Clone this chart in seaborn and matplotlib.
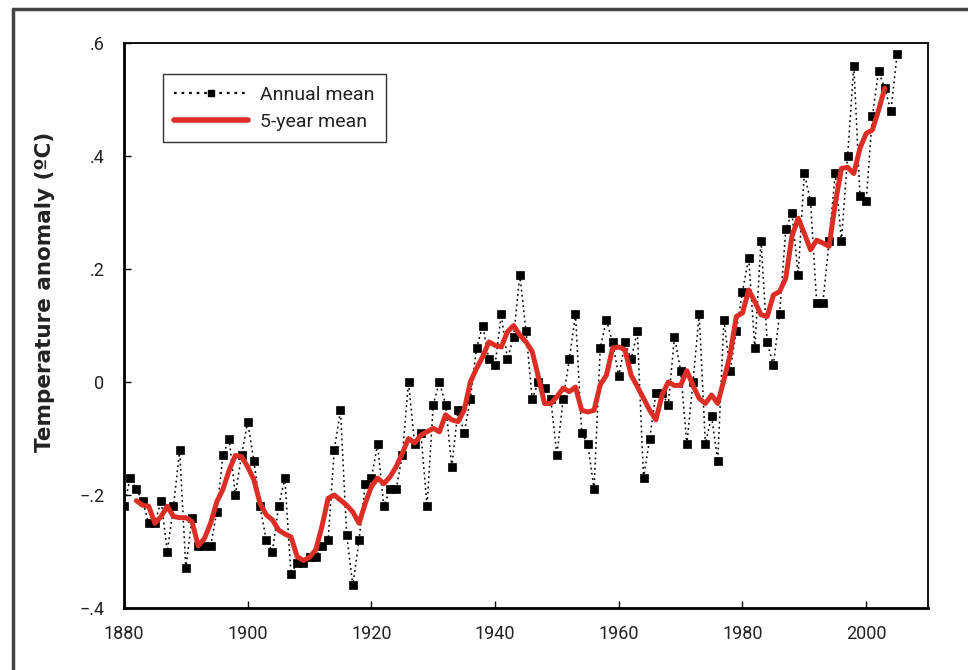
import matplotlib
matplotlib.use("Agg")
import matplotlib.pyplot as plt
from matplotlib.lines import Line2D
import pandas as pd
import seaborn as sns

# Annual mean temperature anomaly, 1880-2005
annual_years = list(range(1880, 2006))
annual_vals = [
    -0.22, -0.17, -0.19, -0.21, -0.25, -0.25, -0.21, -0.30, -0.22, -0.12,
    -0.33, -0.24, -0.29, -0.29, -0.29, -0.23, -0.13, -0.10, -0.20, -0.13,
    -0.07, -0.14, -0.22, -0.28, -0.30, -0.22, -0.17, -0.34, -0.32, -0.32,
    -0.31, -0.31, -0.29, -0.28, -0.12, -0.05, -0.27, -0.36, -0.28, -0.18,
    -0.17, -0.11, -0.22, -0.19, -0.19, -0.13, 0.00, -0.11, -0.09, -0.22,
    -0.04, 0.00, -0.04, -0.15, -0.05, -0.09, -0.03, 0.06, 0.10, 0.04,
    0.03, 0.12, 0.04, 0.08, 0.19, 0.09, -0.03, 0.00, -0.01, -0.03,
    -0.13, -0.03, 0.04, 0.12, -0.09, -0.11, -0.19, 0.06, 0.11, 0.07,
    0.01, 0.07, 0.04, 0.09, -0.17, -0.10, -0.02, -0.02, -0.04, 0.08,
    0.02, -0.11, 0.00, 0.12, -0.11, -0.06, -0.14, 0.11, 0.02, 0.09,
    0.16, 0.22, 0.06, 0.25, 0.07, 0.03, 0.12, 0.27, 0.30, 0.19,
    0.37, 0.32, 0.14, 0.14, 0.25, 0.37, 0.25, 0.40, 0.56, 0.33,
    0.32, 0.47, 0.55, 0.52, 0.48, 0.58,
]

# 5-year mean, 1882-2003
smooth_years = list(range(1882, 2004))
smooth_vals = [
    -0.210, -0.218, -0.220, -0.250, -0.238, -0.220, -0.238, -0.240,
    -0.240, -0.247, -0.290, -0.277, -0.250, -0.212, -0.190, -0.156,
    -0.130, -0.132, -0.150, -0.173, -0.215, -0.235, -0.244, -0.262,
    -0.269, -0.274, -0.309, -0.316, -0.310, -0.297, -0.256, -0.206,
    -0.200, -0.209, -0.218, -0.230, -0.250, -0.215, -0.185, -0.170,
    -0.180, -0.168, -0.150, -0.126, -0.100, -0.108, -0.094, -0.088,
    -0.082, -0.088, -0.058, -0.067, -0.070, -0.050, 0.000, 0.024,
    0.045, 0.071, 0.065, 0.062, 0.089, 0.100, 0.083, 0.071,
    0.054, 0.009, -0.038, -0.038, -0.026, -0.011, -0.017, -0.009,
    -0.050, -0.053, -0.050, -0.005, 0.012, 0.060, 0.062, 0.057,
    0.012, -0.008, -0.029, -0.050, -0.067, -0.023, 0.000, -0.006,
    -0.006, 0.020, -0.006, -0.029, -0.038, -0.023, -0.038, 0.004,
    0.048, 0.116, 0.122, 0.163, 0.142, 0.119, 0.116, 0.154,
    0.160, 0.184, 0.258, 0.290, 0.263, 0.234, 0.251, 0.246,
    0.240, 0.316, 0.378, 0.380, 0.369, 0.414, 0.440, 0.446,
    0.481, 0.520,
]

x_ticks = [1880, 1900, 1920, 1940, 1960, 1980, 2000]
y_ticks = [-0.4, -0.2, 0.0, 0.2, 0.4, 0.6]
y_tick_labels = ["\u2212.4", "\u2212.2", "0", ".2", ".4", ".6"]

annual_df = pd.DataFrame({"year": annual_years, "anomaly": annual_vals})
smooth_df = pd.DataFrame({"year": smooth_years, "anomaly": smooth_vals})

sns.set_style("ticks")
plt.rcParams["font.family"] = ["Roboto", "DejaVu Sans"]

red = "#dd2e26"

fig = plt.figure(figsize=(9.68, 6.70), dpi=100)
ax = fig.add_axes([0.1281, 0.0925, 0.8306, 0.8433])

sns.lineplot(data=annual_df, x="year", y="anomaly", ax=ax,
             color="black", linestyle=(0, (1.2, 2.2)), linewidth=1.1,
             marker="s", markersize=5.5, markeredgecolor="black",
             markeredgewidth=0.5, zorder=2)
sns.lineplot(data=smooth_df, x="year", y="anomaly", ax=ax,
             color=red, linewidth=3.6, solid_joinstyle="round",
             solid_capstyle="round", zorder=3)

ax.set_xlim(1880, 2010)
ax.set_ylim(-0.4, 0.6)
ax.set_xticks(x_ticks)
ax.set_xticklabels([str(t) for t in x_ticks])
ax.set_yticks(y_ticks)
ax.set_yticklabels(y_tick_labels)
ax.tick_params(direction="in", length=5, width=1.0, labelsize=13,
               colors="black", labelcolor="#222222")
ax.tick_params(axis="y", pad=14)
ax.tick_params(axis="x", pad=12)
for s in ax.spines.values():
    s.set_visible(True)
    s.set_color("black")
    s.set_linewidth(1.3)
ax.spines["left"].set_linewidth(2.0)
ax.spines["bottom"].set_linewidth(2.0)

ax.set_xlabel("")
ax.set_ylabel("Temperature anomaly (\u00baC)", fontsize=15.5,
              fontweight="bold", color="#222222", family="DejaVu Sans")
ax.yaxis.set_label_coords(-0.086, 0.56)

handles = [
    Line2D([], [], color="black", linestyle=(0, (1.2, 2.2)), linewidth=1.6,
           marker="s", markersize=4, markevery=[1]),
    Line2D([], [], color=red, linewidth=4),
]
leg = ax.legend(handles, ["Annual mean", "5-year mean"],
                loc="upper left", bbox_to_anchor=(0.048, 0.945),
                fontsize=14, frameon=True, fancybox=False,
                handlelength=3.8, handletextpad=0.6, borderpad=0.6,
                labelspacing=0.45, borderaxespad=0)
leg.get_frame().set_edgecolor("black")
leg.get_frame().set_linewidth(1.0)
for t in leg.get_texts():
    t.set_color("#222222")

# outer frame of the figure (left and top edges)
fig.add_artist(Line2D([0.0135, 0.0135], [0.0, 0.987], color="#444444",
                      linewidth=2.5, transform=fig.transFigure))
fig.add_artist(Line2D([0.0135, 1.0], [0.987, 0.987], color="#444444",
                      linewidth=2.5, transform=fig.transFigure))

fig.savefig("out.png", dpi=100)
